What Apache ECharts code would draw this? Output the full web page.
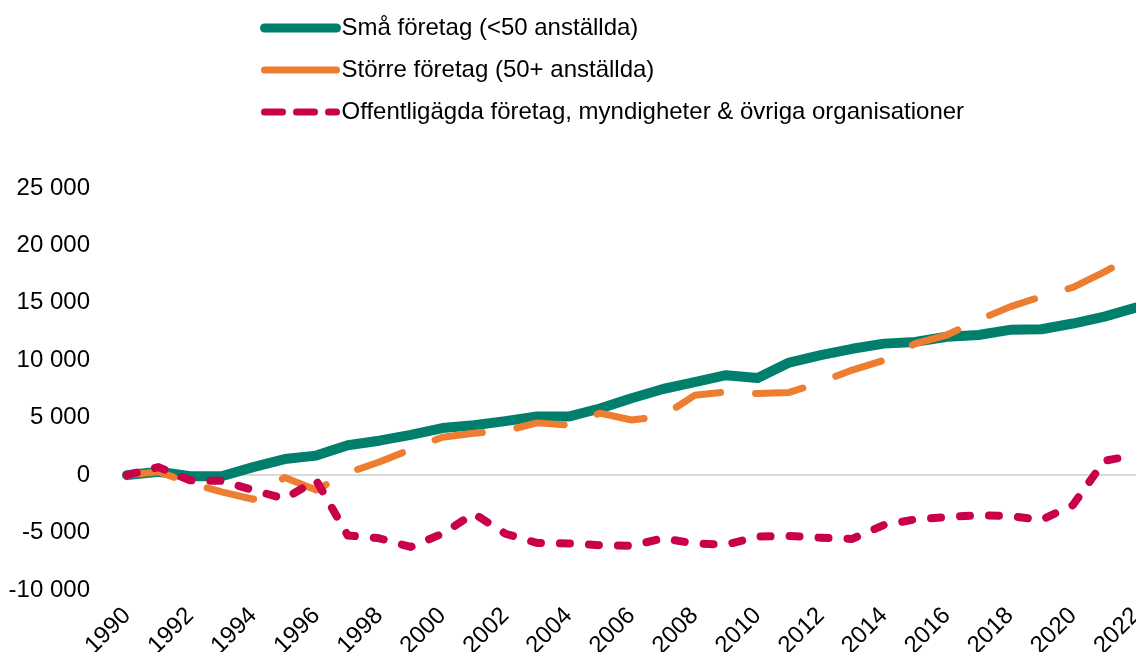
<!DOCTYPE html>
<html>
<head>
<meta charset="utf-8">
<script src="https://cdn.jsdelivr.net/npm/echarts@6/dist/echarts.min.js"></script>
<style>
  html, body { margin: 0; padding: 0; background: #fff; }
  #chart { width: 1136px; height: 652px; }
</style>
</head>
<body>
<div id="chart"></div>
<script>
const years = [];
for (let y = 1990; y <= 2022; y++) years.push(String(y));

// Små företag (<50 anställda)
const smaForetag = [0, 300, -100, -100, 700, 1400, 1700, 2600, 3000, 3500, 4100,
  4350, 4700, 5100, 5100, 5800, 6700, 7500, 8100, 8700, 8450,
  9800, 10450, 11000, 11450, 11600, 12050, 12200, 12650, 12700, 13200,
  13800, 14600];
// Större företag (50+ anställda)
const storreForetag = [0, 300, -700, -1450, -2100, -200, -1300, 200, 1150, 2250, 3300,
  3650, 3850, 4550, 4350, 5400, 4800, 5150, 6950, 7250, 7100,
  7200, 8100, 9150, 10000, 11450, 12200, 13500, 14650, 15550, 16350,
  17700, 19150];
// Offentligägda företag, myndigheter & övriga organisationer
const offentliga = [0, 700, -450, -500, -1300, -2050, -450, -5250, -5500, -6250, -5100,
  -3350, -5100, -5900, -5950, -6100, -6150, -5500, -5950, -6050, -5350,
  -5300, -5450, -5550, -4350, -3850, -3650, -3500, -3550, -3900, -2600,
  1250, 1750];

const names = [
  'Små företag (<50 anställda)',
  'Större företag (50+ anställda)',
  'Offentligägda företag, myndigheter & övriga organisationer'
];
const colors = ['#007F6D', '#ED7D31', '#C9004A'];

const chart = echarts.init(document.getElementById('chart'));
const font = '"Liberation Sans", Arial, sans-serif';

chart.setOption({
  animation: false,
  color: colors,
  textStyle: { fontFamily: font },
  legend: {
    orient: 'vertical',
    left: 255,
    top: 11,
    itemWidth: 72,
    itemHeight: 14,
    itemGap: 18,
    textStyle: { fontSize: 24, lineHeight: 24, color: '#000', fontFamily: font },
    data: [
      { name: names[0], itemStyle: { opacity: 0 }, lineStyle: { width: 9, type: 'solid', cap: 'round' } },
      { name: names[1], itemStyle: { opacity: 0 }, lineStyle: { width: 7, type: 'solid', cap: 'round' } },
      { name: names[2], itemStyle: { opacity: 0 }, lineStyle: { width: 7, type: [18, 14], cap: 'round' } }
    ]
  },
  grid: {
    left: 127,
    right: 0,
    top: 188,
    bottom: 62,
    containLabel: false,
    outerBoundsMode: 'none'
  },
  xAxis: {
    type: 'category',
    data: years,
    boundaryGap: false,
    axisLine: { show: false },
    axisTick: { show: false },
    axisLabel: {
      interval: 1,
      rotate: 45,
      fontSize: 24,
      color: '#000',
      margin: 22,
      fontFamily: font
    }
  },
  yAxis: {
    type: 'value',
    min: -10000,
    max: 25000,
    interval: 5000,
    axisLine: { show: false },
    axisTick: { show: false },
    splitLine: { show: false },
    axisLabel: {
      fontSize: 24,
      color: '#000',
      margin: 37,
      fontFamily: font,
      formatter(v) {
        const s = String(Math.abs(v)).replace(/\B(?=(\d{3})+(?!\d))/g, ' ');
        return (v < 0 ? '-' : '') + s;
      }
    }
  },
  series: [
    {
      name: names[0],
      type: 'line',
      data: smaForetag,
      showSymbol: false,
      symbol: 'none',
      lineStyle: { width: 10, color: colors[0], cap: 'round', join: 'round' },
      markLine: {
        silent: true,
        symbol: 'none',
        label: { show: false },
        lineStyle: { color: '#d9d9d9', width: 2, type: 'solid' },
        data: [{ yAxis: 0 }],
        z: 1
      },
      z: 2
    },
    {
      name: names[1],
      type: 'line',
      data: storreForetag,
      showSymbol: false,
      symbol: 'none',
      lineStyle: { width: 7, color: colors[1], type: [48, 35], cap: 'round', join: 'round' },
      z: 3
    },
    {
      name: names[2],
      type: 'line',
      data: offentliga,
      showSymbol: false,
      symbol: 'none',
      lineStyle: { width: 8, color: colors[2], type: [10, 19], cap: 'round', join: 'round' },
      z: 4
    }
  ]
});
</script>
</body>
</html>
